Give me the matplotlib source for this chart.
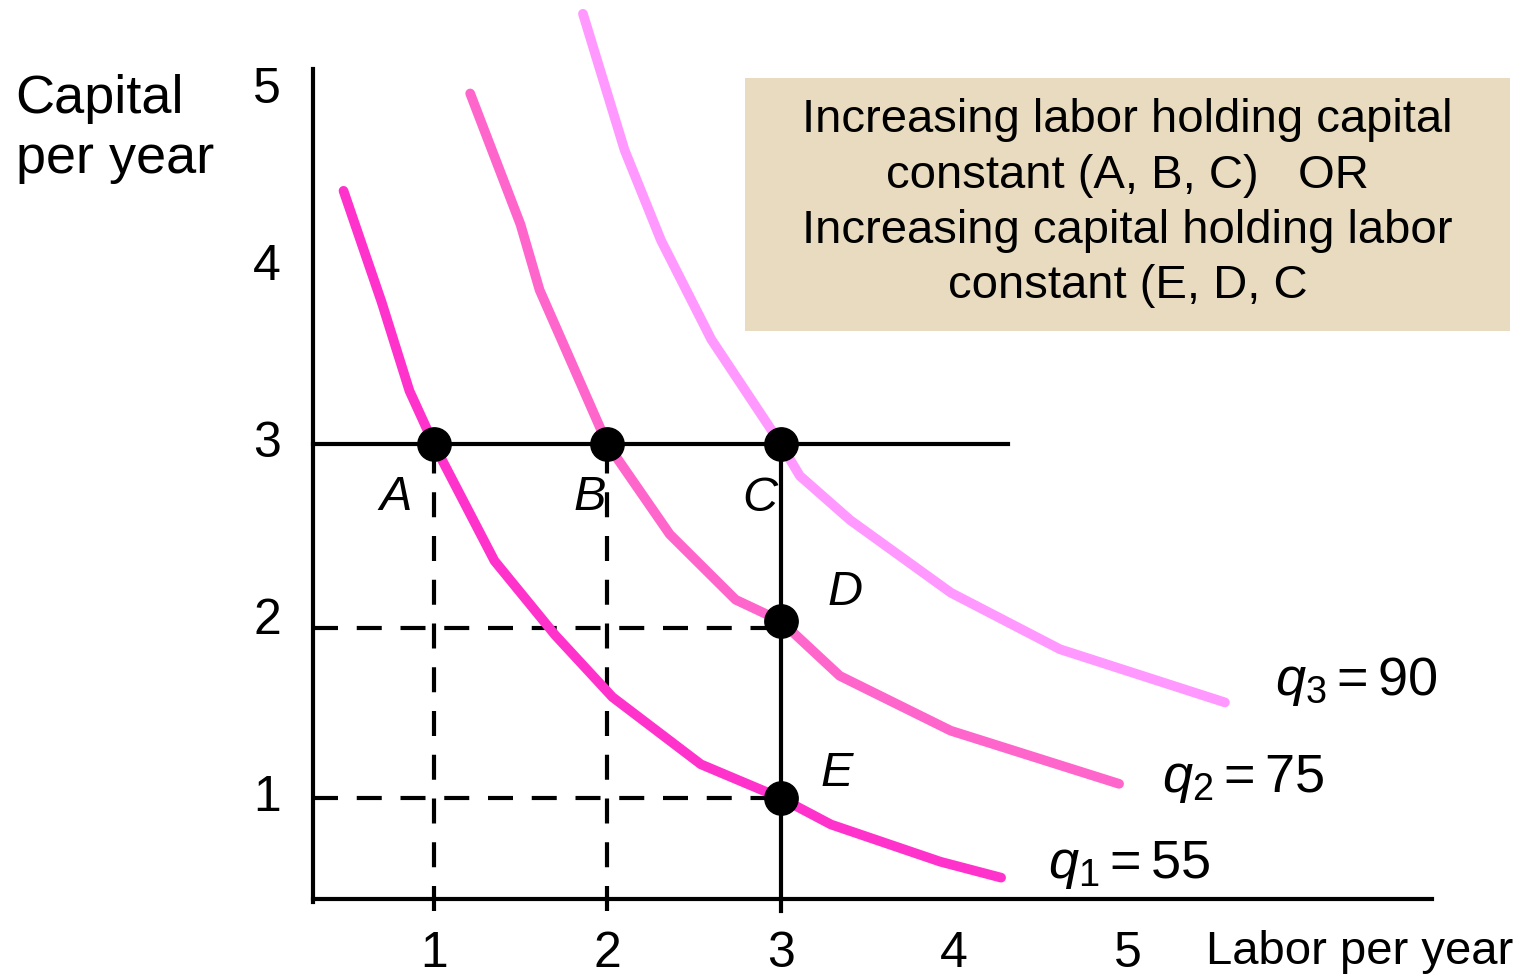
import matplotlib
matplotlib.use("Agg")
import matplotlib.pyplot as plt
from matplotlib.patches import Rectangle

plt.rcParams['font.family'] = ['Liberation Sans', 'DejaVu Sans']
plt.rcParams['mathtext.fontset'] = 'custom'
plt.rcParams['mathtext.rm'] = 'Liberation Sans'
plt.rcParams['mathtext.it'] = 'Liberation Sans:italic'

# isoquant curves (labor, capital)
q1_labor = [0.48, 0.70, 0.86, 1.0, 1.35, 1.70, 2.03, 2.54, 3.0, 3.29, 3.92, 4.27]
q1_capital = [4.43, 3.80, 3.30, 3.0, 2.34, 1.92, 1.57, 1.19, 1.0, 0.85, 0.64, 0.55]
q2_labor = [1.21, 1.50, 1.61, 2.0, 2.36, 2.74, 3.0, 3.34, 3.98, 4.95]
q2_capital = [4.98, 4.24, 3.87, 3.0, 2.49, 2.12, 2.0, 1.69, 1.38, 1.08]
q3_labor = [1.86, 2.10, 2.31, 2.60, 3.0, 3.11, 3.40, 3.98, 4.61, 5.56]
q3_capital = [5.43, 4.66, 4.15, 3.59, 3.0, 2.82, 2.57, 2.16, 1.84, 1.54]

curve_labels = [r'$q_{\mathit{1}} = 55$', r'$q_{\mathit{2}} = 75$', r'$q_{\mathit{3}} = 90$']
curve_colors = ['#FF33CC', '#FF66CC', '#FF99FF']

# named points
point_names = ['A', 'B', 'C', 'D', 'E']
point_labor = [1, 2, 3, 3, 3]
point_capital = [3, 3, 3, 2, 1]

ticks = [1, 2, 3, 4, 5]

box_text = ("Increasing labor holding capital\nconstant (A, B, C)   OR\n"
            "Increasing capital holding labor\nconstant (E, D, C")

fig = plt.figure(figsize=(15.28, 9.75), dpi=100)
ax = fig.add_axes([0, 0, 1, 1])
ax.set_xlim(-1.5, 7.307)
ax.set_ylim(0, 5.508)
ax.axis('off')

# axes
ax.plot([0.305, 0.305], [0.41, 5.12], color='black', lw=3)
ax.plot([0.305, 6.755], [0.43, 0.43], color='black', lw=3)
ax.plot([0.305, 4.31], [3, 3], color='black', lw=3)
ax.plot([3, 3], [0.36, 3], color='black', lw=3)

# dashed guides
dash = dict(color='black', lw=3, linestyle=(0, (6, 4.5)))
ax.plot([1, 1], [0.36, 3], **dash)
ax.plot([2, 2], [0.36, 3], **dash)
ax.plot([0.305, 3], [1.96, 1.96], **dash)
ax.plot([0.305, 3], [1, 1], **dash)

# curves
for xs, ys, c in zip([q1_labor, q2_labor, q3_labor],
                     [q1_capital, q2_capital, q3_capital], curve_colors):
    ax.plot(xs, ys, color=c, lw=7, solid_capstyle='round',
            solid_joinstyle='round', zorder=3)

ax.plot(point_labor, point_capital, 'o', color='black', ms=24, zorder=5)

label_pos = {'A': (0.78, 2.7), 'B': (1.9, 2.7), 'C': (2.88, 2.69),
             'D': (3.37, 2.16), 'E': (3.32, 1.14)}
for n in point_names:
    x, y = label_pos[n]
    ax.text(x, y, n, fontsize=35, style='italic', ha='center', va='center')

# curve labels
for lbl, (x, y) in zip(curve_labels, [(4.54, 0.62), (5.2, 1.11), (5.85, 1.66)]):
    ax.text(x, y, lbl, fontsize=39, ha='left', va='center')

# tick labels
for t in ticks:
    ax.text(t, 0.12, str(t), fontsize=36, ha='center', va='center')
    ax.text(0.04, t, str(t), fontsize=36, ha='center', va='center')

ax.text(5.45, 0.13, 'Labor per year', fontsize=34, ha='left', va='center')
ax.text(-1.41, 5.09, 'Capital\nper year', fontsize=39, ha='left', va='top',
        linespacing=1.26)

ax.add_patch(Rectangle((2.795, 3.64), 4.41, 1.43, facecolor='#E8DBBF',
                       edgecolor='none', zorder=1))
ax.text(5.0, 4.36, box_text, fontsize=34, ha='center', va='center',
        linespacing=1.33, zorder=2)

fig.savefig('out.png', dpi=100)
